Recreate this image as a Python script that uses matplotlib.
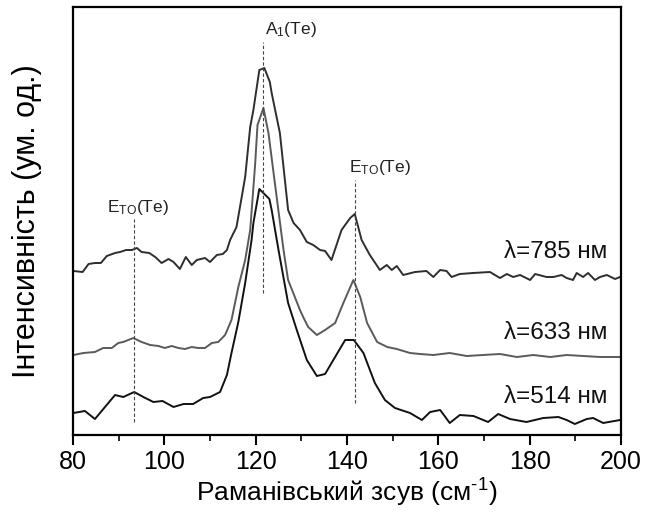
import numpy as np
import matplotlib
matplotlib.use('Agg')
import matplotlib.pyplot as plt
from matplotlib.ticker import MultipleLocator

plt.rcParams['font.family'] = ['Liberation Sans', 'DejaVu Sans']
plt.rcParams['mathtext.fontset'] = 'custom'
plt.rcParams['mathtext.rm'] = 'Liberation Sans'
plt.rcParams['mathtext.it'] = 'Liberation Sans'
plt.rcParams['mathtext.default'] = 'regular'
plt.rcParams['axes.unicode_minus'] = False

# Raman shift (cm^-1) and intensity (arb. units, offset curves)
x_785 = [80.1, 82.1, 83.4, 84.8, 86.1, 87.4, 89.2, 90.3, 91.6, 92.9, 94.0, 95.0, 96.7, 98.0,
         99.4, 100.9, 102.0, 103.4, 104.7, 106.0, 107.1, 108.9, 110.0, 111.5, 112.8, 113.7,
         114.4, 115.8, 117.7, 118.8, 119.5, 120.8, 121.9, 123.1, 123.5, 125.3, 127.1, 128.3,
         129.7, 131.2, 132.6, 134.1, 135.2, 136.6, 138.8, 140.7, 141.7, 143.2, 145.0, 147.2,
         148.7, 149.8, 150.9, 152.3, 154.9, 157.4, 158.9, 160.4, 161.8, 162.9, 164.7, 167.6,
         171.3, 173.5, 175.0, 176.4, 177.9, 180.1, 181.2, 183.7, 185.2, 187.0, 188.1, 189.5,
         190.3, 191.7, 192.8, 194.3, 195.4, 196.9, 198.7, 199.8]
y_785 = [164, 163, 171, 172, 172, 179, 182, 183, 185, 185, 187, 183, 182, 178,
         172, 176, 173, 166, 178, 170, 175, 177, 173, 180, 181, 185,
         195, 208, 258, 308, 325, 365, 367, 353, 342, 302, 225, 212,
         205, 193, 190, 185, 184, 175, 205, 217, 221, 195, 180, 165,
         170, 165, 169, 160, 163, 164, 158, 165, 164, 158, 161, 162,
         163, 157, 161, 158, 160, 155, 161, 158, 158, 160, 157, 155,
         162, 158, 162, 155, 158, 160, 156, 158]

x_633 = [80.1, 82.3, 84.8, 86.6, 88.5, 89.9, 91.0, 93.2, 95.0, 96.9, 98.7, 100.1, 101.6,
         103.1, 104.5, 106.0, 107.4, 108.9, 110.4, 111.8, 113.3, 114.7, 116.2, 117.7,
         118.8, 119.9, 120.4, 121.7, 122.8, 124.2, 126.1, 127.1, 129.7, 130.4, 131.5,
         133.4, 135.2, 137.4, 139.2, 141.4, 142.9, 144.4, 146.6, 148.8, 150.9, 153.8,
         156.0, 158.9, 162.5, 166.2, 169.8, 173.5, 177.2, 180.8, 184.5, 188.1, 191.8,
         195.4, 199.8]
y_633 = [80, 82, 83, 87, 87, 92, 93, 97, 93, 90, 89, 87, 89,
         87, 86, 88, 87, 87, 92, 93, 100, 115, 148, 175,
         205, 272, 310, 327, 302, 252, 185, 155, 125, 118, 108,
         100, 105, 112, 132, 155, 138, 112, 93, 88, 86, 82,
         81, 80, 82, 79, 80, 81, 78, 80, 78, 80, 79,
         78, 78]

x_514 = [80.1, 82.6, 84.8, 87.0, 89.2, 91.0, 93.4, 95.4, 97.6, 99.6, 102.0, 104.2, 106.3,
         108.5, 110.0, 112.2, 113.7, 114.7, 116.2, 117.7, 119.1, 119.5, 120.8, 123.0,
         123.5, 125.0, 127.1, 129.0, 131.2, 133.4, 135.2, 137.0, 139.6, 141.5, 143.6,
         146.1, 148.3, 150.5, 153.8, 156.4, 158.2, 160.4, 162.5, 164.7, 167.7, 170.9,
         173.1, 175.7, 179.3, 183.0, 186.3, 188.1, 189.9, 192.5, 193.9, 196.1, 199.8]
y_514 = [22, 24, 16, 28, 40, 38, 43, 38, 33, 34, 28, 31, 31,
         37, 38, 43, 60, 82, 113, 152, 195, 212, 246, 236,
         225, 185, 132, 105, 75, 59, 61, 75, 95, 95, 82,
         52, 35, 27, 22, 15, 23, 25, 12, 20, 19, 13,
         21, 16, 13, 17, 18, 15, 11, 16, 17, 12, 15]

labels = ['λ=785 нм', 'λ=633 нм', 'λ=514 нм']
label_y = [183, 102, 38]
colors = ['#2e2e2e', '#5a5a5a', '#111111']

# mode positions: (x, y_from, y_to, label, label_x, label_y)
modes = [(121.5, 142, 393, 'A$_1$(Te)', 122.0, 396),
         (141.7, 32, 255, 'E$_{TO}$(Te)', 140.4, 258),
         (93.4, 13, 216, 'E$_{TO}$(Te)', 87.4, 218)]

fig = plt.figure(figsize=(6.48, 5.26), dpi=100)
ax = fig.add_axes([0.1127, 0.173, 0.8456, 0.8137])

for xs, ys, c in [(x_785, y_785, colors[0]), (x_633, y_633, colors[1]), (x_514, y_514, colors[2])]:
    ax.plot(xs, ys, color=c, linewidth=1.4)

for mx, y0, y1, txt, tx, ty in modes:
    ax.plot([mx, mx], [y0, y1], linestyle=(0, (3, 2)), color='#444444', linewidth=0.8)
    ax.text(tx, ty, txt, fontsize=12.5, ha='left', va='bottom', color='#222222')

for lab, ly in zip(labels, label_y):
    ax.text(197, ly, lab, fontsize=17.5, ha='right', va='center', color='#111111')

ax.set_xlim(80, 200)
ax.set_ylim(0, 428)
ax.xaxis.set_major_locator(MultipleLocator(20))
ax.xaxis.set_minor_locator(MultipleLocator(10))
ax.tick_params(axis='x', which='major', direction='out', length=7, width=1.5, labelsize=18, pad=4)
ax.tick_params(axis='x', which='minor', direction='out', length=4, width=1.2)
ax.set_yticks([])
for s in ax.spines.values():
    s.set_linewidth(1.6)

ax.set_xlabel('Раманівський зсув (см$^{\\text{-1}}$)', fontsize=19, labelpad=2)
ax.set_ylabel('Інтенсивність (ум. од.)', fontsize=22, labelpad=22)

fig.savefig('out.png', dpi=100)
